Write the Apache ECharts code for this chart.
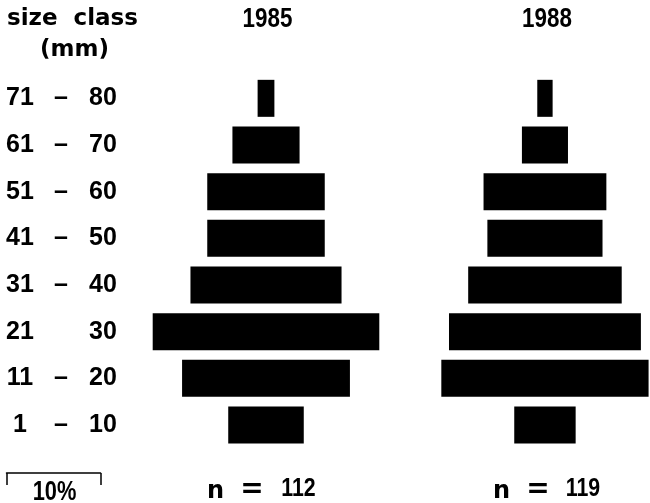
<!DOCTYPE html>
<html>
<head>
<meta charset="utf-8">
<script src="https://cdn.jsdelivr.net/npm/echarts@6/dist/echarts.min.js"></script>
<style>
	html, body { margin: 0; padding: 0; background: #fff; }
	#chart { width: 650px; height: 503px; }
</style>
</head>
<body>
<div id="chart"></div>
<script>
// size classes, bottom to top
const classLow = ['1', '11', '21', '31', '41', '51', '61', '71'];
const classDash = ['–', '–', '', '–', '–', '–', '–', '–'];
const classHigh = ['10', '20', '30', '40', '50', '60', '70', '80'];

// number of individuals per size class
const counts1985 = [9, 20, 27, 18, 14, 14, 8, 2];
const counts1988 = [8, 27, 25, 20, 15, 16, 6, 2];
const n1985 = 112;
const n1988 = 119;

const pxPerPct = 9.4;
const numFont = '"Liberation Sans", sans-serif';
const txtFont = '"DejaVu Sans", sans-serif';

const categories = classLow.map((v, i) => i);
const pct = (arr, n) => arr.map(v => v / n * 100);
const p1985 = pct(counts1985, n1985);
const p1988 = pct(counts1988, n1988);

// grid placed so that 0 sits at the centre of each pyramid
function pyramidGrid(center, range) {
	const w = range * 2 * pxPerPct;
	return { left: center - w / 2, width: w, top: 75, height: 373.3 };
}

// one bar per class, centred on 0
function renderBar(params, api) {
	const v = api.value(0);
	const cat = api.value(1);
	const p0 = api.coord([-v / 2, cat]);
	const p1 = api.coord([v / 2, cat]);
	const h = 37;
	return {
		type: 'rect',
		shape: { x: p0[0], y: p0[1] - h / 2, width: p1[0] - p0[0], height: h },
		style: { fill: '#000' }
	};
}

function pyramidSeries(values, idx) {
	return {
		type: 'custom',
		xAxisIndex: idx,
		yAxisIndex: idx,
		renderItem: renderBar,
		encode: { x: 0, y: 1 },
		data: values.map((v, i) => [v, i])
	};
}

// narrow, tall numerals like the original lettering
function numText(x, y, text, size, sx) {
	return {
		type: 'text', x: x, y: y, scaleX: sx,
		style: { text: text, font: 'bold ' + size + 'px ' + numFont, fill: '#000', align: 'center', verticalAlign: 'middle' }
	};
}

function plainText(x, y, text, size) {
	return {
		type: 'text', x: x, y: y,
		style: { text: text, font: 'bold ' + size + 'px ' + txtFont, fill: '#000', align: 'center', verticalAlign: 'middle' }
	};
}

const chart = echarts.init(document.getElementById('chart'));

const labelStyle = { fontSize: 25, fontWeight: 'bold', fontFamily: numFont, color: '#000' };

const option = {
	animation: false,
	backgroundColor: '#fff',
	textStyle: { fontFamily: numFont, color: '#000' },
	grid: [
		pyramidGrid(266, 14),
		pyramidGrid(548, 11.5),
		{ left: 6.5, width: 10 * pxPerPct, top: 473, height: 10 }
	],
	xAxis: [
		{ gridIndex: 0, type: 'value', min: -14, max: 14, show: false },
		{ gridIndex: 1, type: 'value', min: -11.5, max: 11.5, show: false },
		{
			gridIndex: 2, type: 'value', min: 0, max: 10, interval: 10, position: 'top',
			axisLine: { onZero: false, lineStyle: { color: '#000', width: 1.5 } },
			axisTick: { inside: true, length: 12, lineStyle: { color: '#000', width: 1.5 } },
			axisLabel: { show: false },
			splitLine: { show: false }
		}
	],
	yAxis: [
		{
			gridIndex: 0, type: 'category', data: categories,
			axisLine: { show: false }, axisTick: { show: false },
			axisLabel: {
				margin: 266 - 14 * pxPerPct - 6,
				align: 'left',
				formatter: (v, i) => '{a|' + classLow[i] + '}{b|' + classDash[i] + '}{c|' + classHigh[i] + '}',
				rich: {
					a: Object.assign({ width: 28, align: 'right' }, labelStyle),
					b: Object.assign({ width: 54, align: 'center' }, labelStyle),
					c: Object.assign({ width: 30, align: 'left' }, labelStyle)
				}
			}
		},
		{ gridIndex: 1, type: 'category', data: categories, show: false },
		{ gridIndex: 2, type: 'value', show: false }
	],
	series: [
		pyramidSeries(p1985, 0),
		pyramidSeries(p1988, 1)
	],
	graphic: [
		{ type: 'text', left: 7, top: 8, style: { text: 'size  class', font: 'bold 23px ' + txtFont, fill: '#000' } },
		{ type: 'text', left: 40, top: 39, style: { text: '(mm)', font: 'bold 23px ' + txtFont, fill: '#000' } },
		numText(267.5, 19, '1985', 28, 0.8),
		numText(547, 19, '1988', 28, 0.8),
		numText(54.5, 492, '10%', 28, 0.78),
		plainText(215.5, 492, 'n', 24),
		plainText(252, 490, '=', 28),
		numText(298.5, 489, String(n1985), 26, 0.82),
		plainText(501.5, 492, 'n', 24),
		plainText(538, 490, '=', 28),
		numText(583, 489, String(n1988), 26, 0.82)
	]
};

chart.setOption(option);
</script>
</body>
</html>
